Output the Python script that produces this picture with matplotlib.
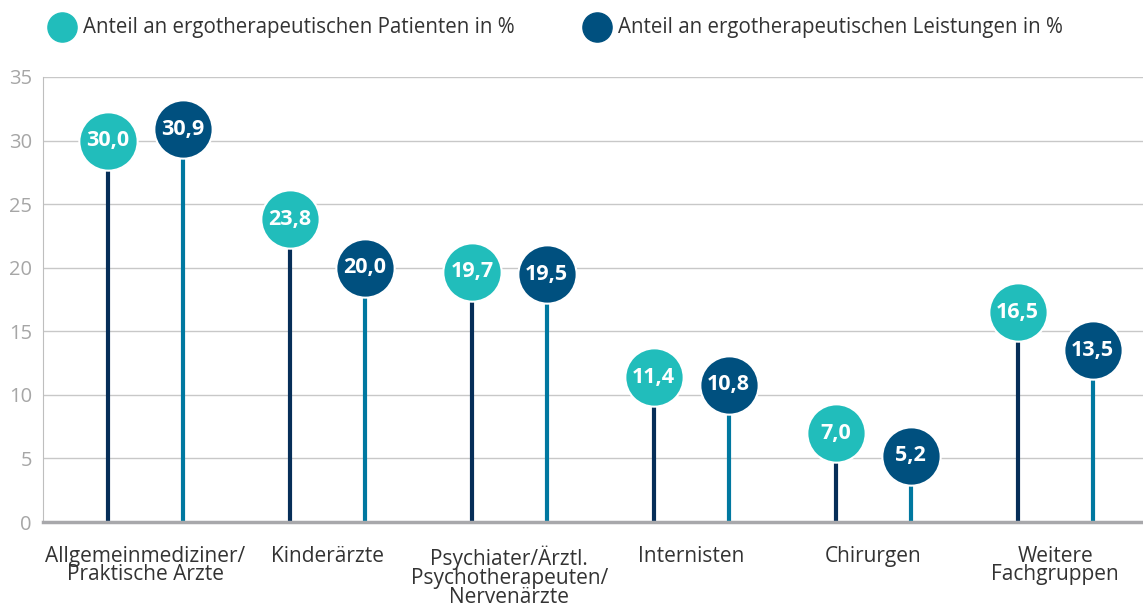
import numpy as np
import matplotlib.pyplot as plt
from matplotlib.lines import Line2D

plt.rcParams['font.family'] = ['Open Sans', 'DejaVu Sans']

categories = ['Allgemeinmediziner/\nPraktische Ärzte', 'Kinderärzte',
              'Psychiater/Ärztl.\nPsychotherapeuten/\nNervenärzte', 'Internisten',
              'Chirurgen', 'Weitere\nFachgruppen']
patienten = [30.0, 23.8, 19.7, 11.4, 7.0, 16.5]
leistungen = [30.9, 20.0, 19.5, 10.8, 5.2, 13.5]
series_names = ['Anteil an ergotherapeutischen Patienten in %',
                'Anteil an ergotherapeutischen Leistungen in %']

turq = '#21BDBB'
navy = '#00507F'
stem_dark = '#062E58'
stem_teal = '#0078A0'

fig = plt.figure(figsize=(11.43, 6.08), dpi=100)
ax = fig.add_axes([0.0376, 0.1414, 0.962, 0.732])

x = np.arange(len(categories))
off = 0.206

for vals, dx, face, stem in [(patienten, -off, turq, stem_dark),
                             (leistungen, off, navy, stem_teal)]:
    xs = x + dx
    ax.vlines(xs, 0, vals, color=stem, lw=3, zorder=2)
    ax.plot(xs, vals, 'o', ms=42, mfc=face, mec='white', mew=1.5, zorder=3)
    for xi, v in zip(xs, vals):
        ax.text(xi, v, f'{v:.1f}'.replace('.', ','), color='white', fontsize=15.5,
                fontweight='bold', ha='center', va='center', zorder=4)

ax.set_ylim(0, 35)
ax.set_xlim(-0.563, 5.48)
ax.set_yticks(range(0, 36, 5))
ax.yaxis.grid(True, color='#C8C8C8', lw=1)
ax.set_axisbelow(True)
ax.tick_params(axis='y', length=0, labelsize=14.5, labelcolor='#A6A6A6', pad=8)
ax.set_xticks(x)
ax.set_xticklabels(categories, fontsize=15, color='#333333', linespacing=0.86)
ax.tick_params(axis='x', length=0, pad=17)
for s in ['top', 'right']:
    ax.spines[s].set_visible(False)
ax.spines['left'].set_color('#BEBEBE')
ax.spines['bottom'].set_color('#A8A8AB')
ax.spines['bottom'].set_linewidth(2.5)

# legend at top
for lx, tx, col, name in [(62, 83, turq, series_names[0]),
                          (597, 618, navy, series_names[1])]:
    y = 1 - 27 / 608
    fig.lines.append(Line2D([lx / 1143], [y], marker='o', ms=21, color=col,
                            mec=col, transform=fig.transFigure, figure=fig))
    fig.text(tx / 1143, y, name, fontsize=14.8, color='#333333',
             va='center', ha='left')

fig.savefig('out.png', dpi=100)
